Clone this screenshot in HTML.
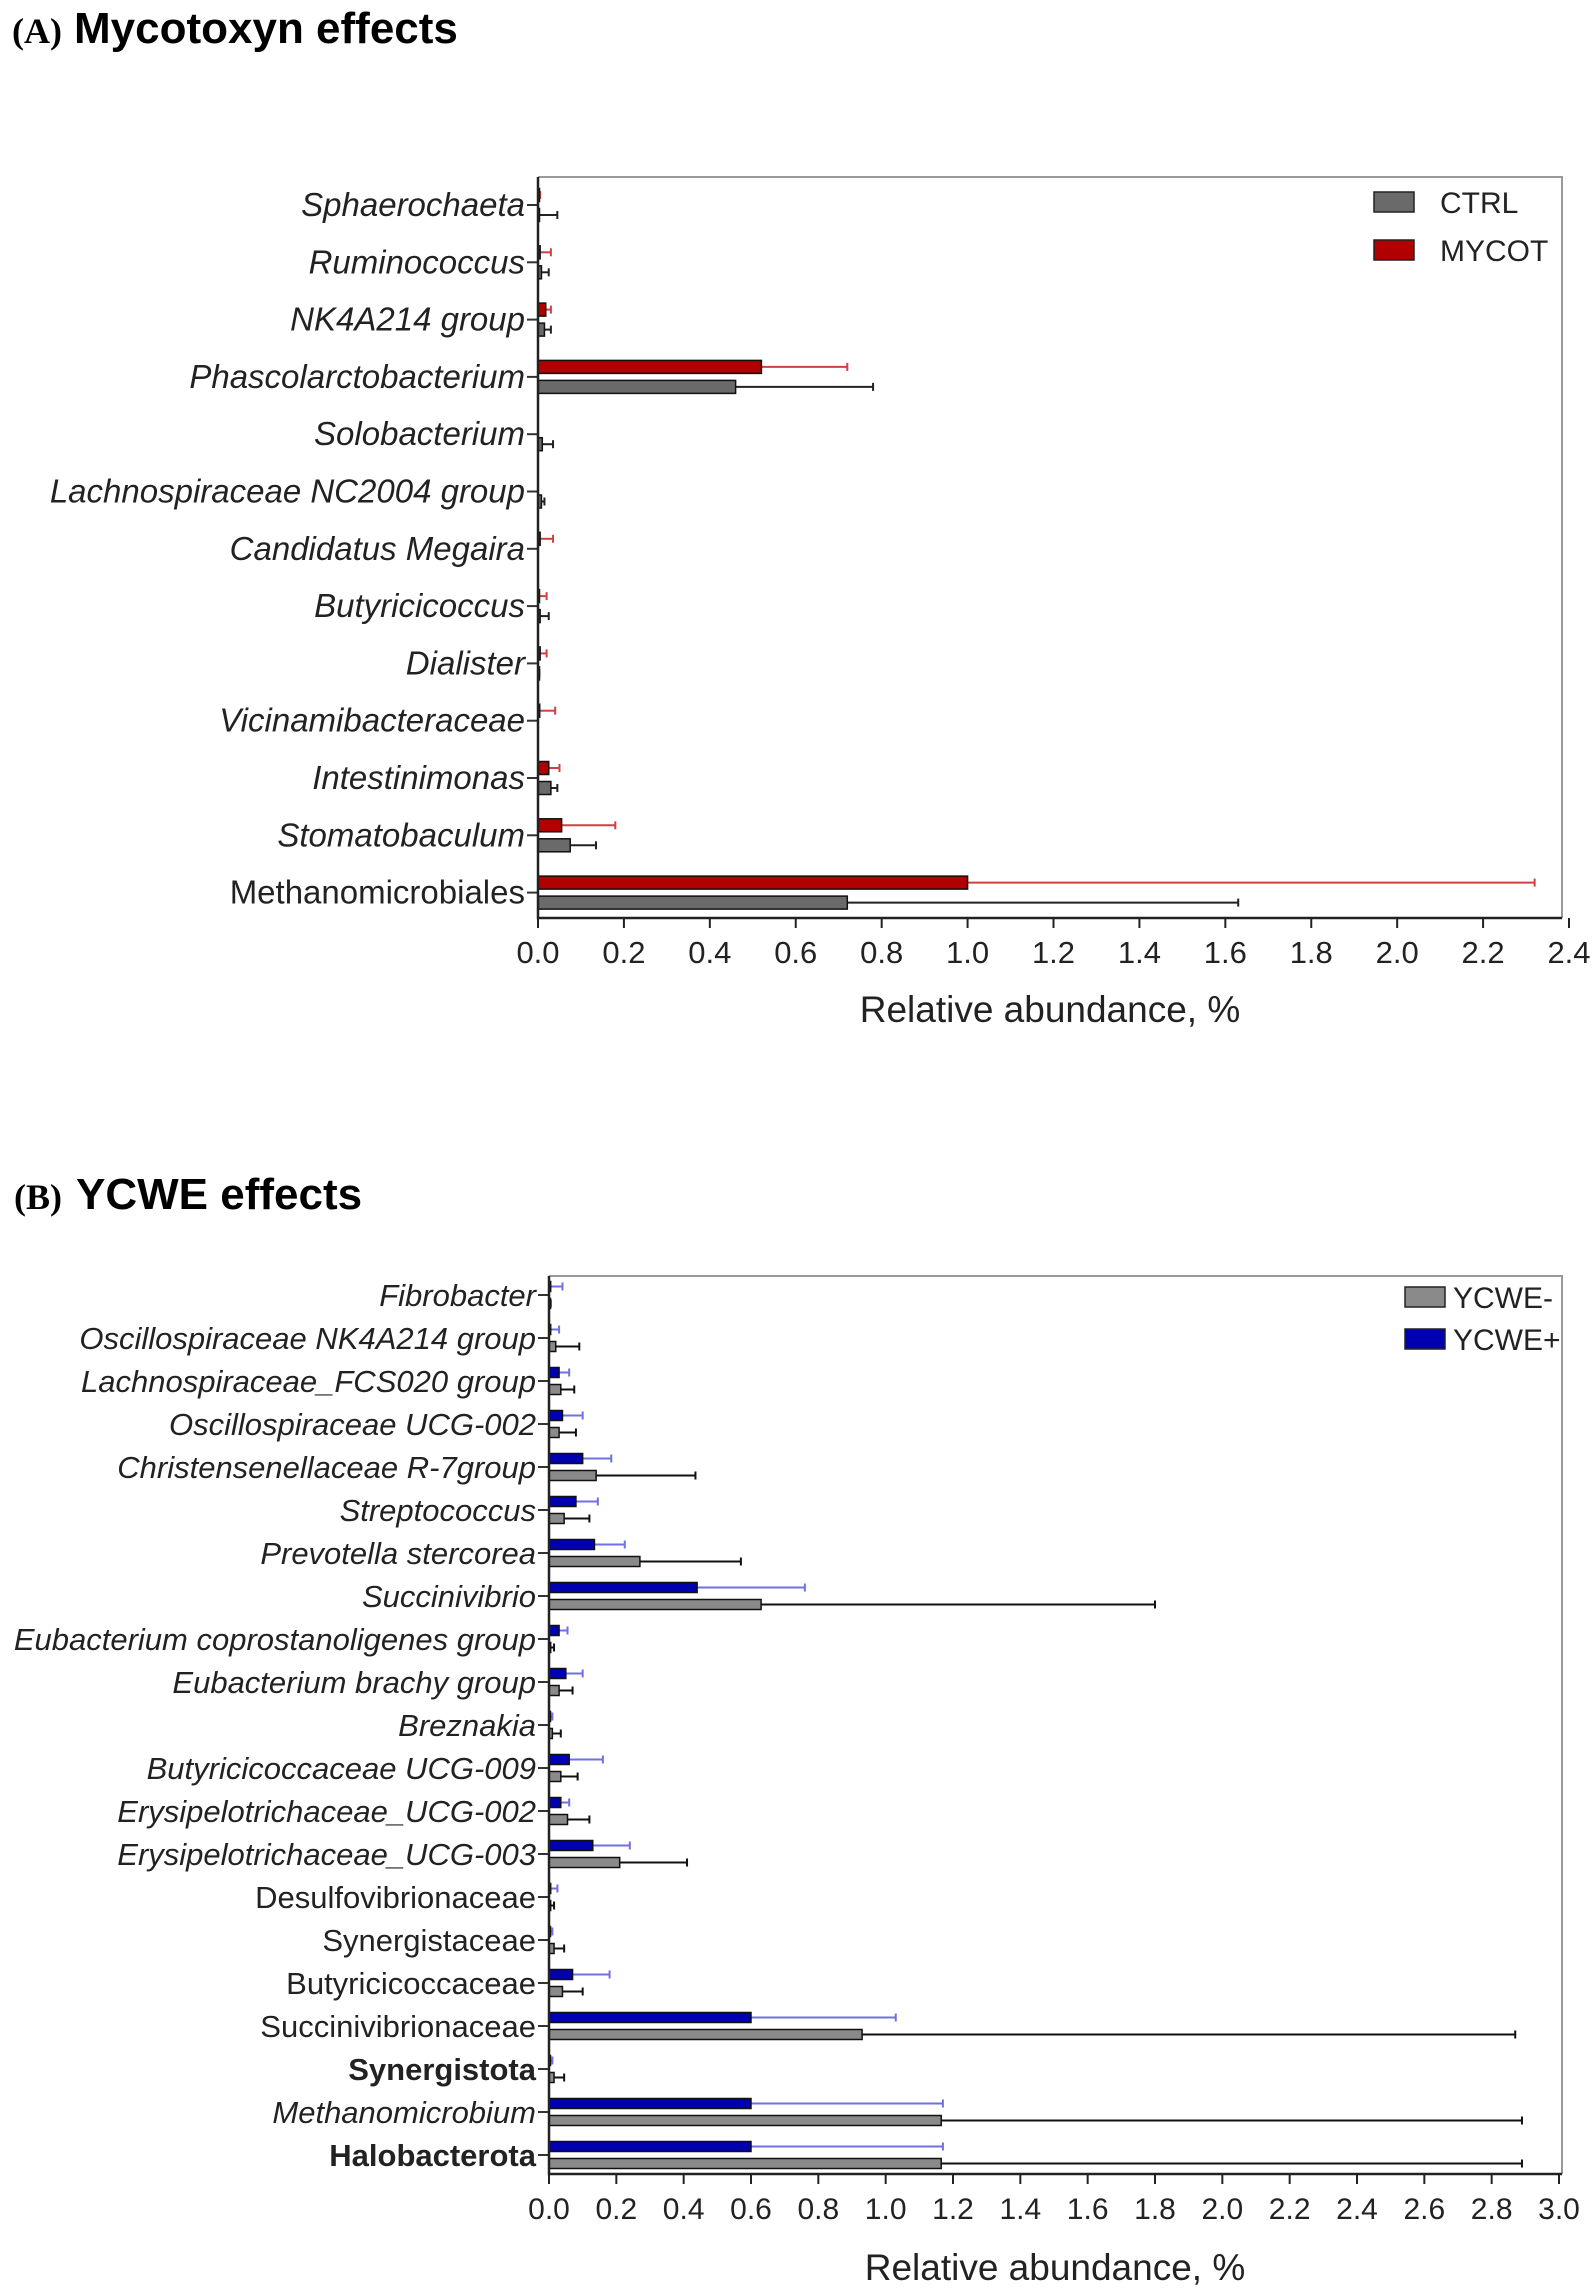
<!DOCTYPE html>
<html><head><meta charset="utf-8"><style>
html,body{margin:0;padding:0;background:#fff;}
svg{display:block;font-family:"Liberation Sans",sans-serif;}
</style></head><body>
<svg id="svg" width="1595" height="2291" viewBox="0 0 1595 2291">
<g><text x="12" y="43" font-family="Liberation Serif" font-weight="bold" font-size="36">(A)</text><text x="74" y="43" font-weight="bold" font-size="44">Mycotoxyn effects</text></g>
<g><text x="14" y="1209" font-family="Liberation Serif" font-weight="bold" font-size="36">(B)</text><text x="76" y="1209" font-weight="bold" font-size="44">YCWE effects</text></g>
<g id="ga"></g>
<g id="gb"></g>
</svg>
<script>
const catsA=["Sphaerochaeta","Ruminococcus","NK4A214 group","Phascolarctobacterium","Solobacterium","Lachnospiraceae NC2004 group","Candidatus Megaira","Butyricicoccus","Dialister","Vicinamibacteraceae","Intestinimonas","Stomatobaculum","Methanomicrobiales"];
const italicA=[1,1,1,1,1,1,1,1,1,1,1,1,0];
const mycotVals=[0.002,0.005,0.018,0.52,0,0,0.005,0.003,0.005,0.004,0.025,0.055,1.0];
const mycotErr=[0.005,0.03,0.03,0.72,0,0,0.035,0.02,0.02,0.04,0.05,0.18,2.32];
const ctrlVals=[0.003,0.008,0.015,0.46,0.01,0.008,0,0.005,0.001,0,0.03,0.075,0.72];
const ctrlErr=[0.045,0.025,0.03,0.78,0.035,0.015,0,0.025,0.003,0,0.045,0.135,1.63];
const ticksA=["0.0","0.2","0.4","0.6","0.8","1.0","1.2","1.4","1.6","1.8","2.0","2.2","2.4"];

const catsB=["Fibrobacter","Oscillospiraceae NK4A214 group","Lachnospiraceae_FCS020 group","Oscillospiraceae UCG-002","Christensenellaceae R-7group","Streptococcus","Prevotella stercorea","Succinivibrio","Eubacterium coprostanoligenes group","Eubacterium brachy group","Breznakia","Butyricicoccaceae UCG-009","Erysipelotrichaceae_UCG-002","Erysipelotrichaceae_UCG-003","Desulfovibrionaceae","Synergistaceae","Butyricicoccaceae","Succinivibrionaceae","Synergistota","Methanomicrobium","Halobacterota"];
const styleB=["i","i","i","i","i","i","i","i","i","i","i","i","i","i","n","n","n","n","b","i","b"];
const ycwePlusVals=[0.005,0.005,0.03,0.04,0.1,0.08,0.135,0.44,0.03,0.05,0.003,0.06,0.035,0.13,0.005,0.003,0.07,0.6,0.003,0.6,0.6];
const ycwePlusErr=[0.04,0.03,0.06,0.1,0.185,0.145,0.225,0.76,0.055,0.1,0.01,0.16,0.06,0.24,0.025,0.01,0.18,1.03,0.01,1.17,1.17];
const ycweMinusVals=[0.002,0.02,0.035,0.03,0.14,0.045,0.27,0.63,0.005,0.03,0.01,0.035,0.055,0.21,0.005,0.015,0.04,0.93,0.015,1.165,1.165];
const ycweMinusErr=[0.005,0.09,0.075,0.08,0.435,0.12,0.57,1.8,0.015,0.07,0.035,0.085,0.12,0.41,0.015,0.045,0.1,2.87,0.045,2.89,2.89];
const ticksB=["0.0","0.2","0.4","0.6","0.8","1.0","1.2","1.4","1.6","1.8","2.0","2.2","2.4","2.6","2.8","3.0"];

const NS="http://www.w3.org/2000/svg";
function mk(parent,tag,attrs,txt){const e=document.createElementNS(NS,tag);for(const k in attrs)e.setAttribute(k,attrs[k]);if(txt!==undefined)e.textContent=txt;parent.appendChild(e);return e;}

function chart(g,o){
  const sx=v=>o.left+(v/o.max)*(o.xmaxPx-o.left);
  const sy=i=>o.firstY+i*o.step;
  const fr=mk(g,'path',{d:`M${o.left} ${o.top}H${o.right}V${o.bottom}`,fill:'none',stroke:'#999','stroke-width':2});
  
  
  o.cats.forEach((c,i)=>{
    const y=sy(i);
    const tk=mk(g,'line',{x1:o.left-11,x2:o.left,y1:y,y2:y,stroke:'#333','stroke-width':2});
    
    
    const st=o.styles[i];
    const t=mk(g,'text',{x:o.left-13,y:y+11,'text-anchor':'end','font-size':o.fs,'font-style':st==='i'?'italic':'normal','font-weight':st==='b'?'bold':'normal',fill:'#222'},c);
    
    
    [[o.s1,o.e1,o.c1,o.ec1,-o.off],[o.s2,o.e2,o.c2,o.ec2,o.off]].forEach(([vals,errs,col,ecol,dy])=>{
      const yc=y+dy;
      const v=vals[i],e=errs[i];
      if(e>v){
        const el=mk(g,'line',{x1:sx(v),x2:sx(e),y1:yc,y2:yc,stroke:ecol,'stroke-width':2});
        
        
        const cap=mk(g,'line',{x1:sx(e),x2:sx(e),y1:yc-4,y2:yc+4,stroke:ecol,'stroke-width':2});
        
        
      }
      if(v>0){
        const r=mk(g,'rect',{x:o.left,y:yc-o.bh/2,width:Math.max(sx(v)-o.left,1.5),height:o.bh,fill:col,stroke:'#111','stroke-width':1.5});
        
        
      }
    });
  });
  const ax=mk(g,'path',{d:`M${o.left} ${o.top}V${o.bottom}H${o.right}`,fill:'none',stroke:'#222','stroke-width':2.5});
  
  
  o.ticks.forEach((t,i)=>{
    const v=parseFloat(t),x=sx(v);
    const l=mk(g,'line',{x1:x,x2:x,y1:o.bottom,y2:o.bottom+10,stroke:'#222','stroke-width':2});
    
    
    const tt=mk(g,'text',{x:x,y:o.bottom+45,'text-anchor':'middle','font-size':o.tfs,fill:'#222'},t);
    
    
  });
  const xt=mk(g,'text',{x:o.xtX,y:o.xtY,'text-anchor':'middle','font-size':37,fill:'#222'},'Relative abundance, %');
  
  
  o.legend.forEach(([lab,col],j)=>{
    const ly=o.legY+j*o.legStep;
    const r=mk(g,'rect',{x:o.legX,y:ly-10,width:40,height:20,fill:col,stroke:'#222','stroke-width':1.5});
    
    
    const t=mk(g,'text',{x:o.legX+o.legTx,y:ly+11,'font-size':30,fill:'#222'},lab);
    
    
  });
}

chart(document.getElementById('ga'),{left:538,right:1562,top:177,bottom:918,max:2.4,xmaxPx:1569,
  firstY:205,step:57.3,off:10,bh:13,fs:33,tfs:31,cats:catsA,styles:italicA.map(v=>v?'i':'n'),
  s1:mycotVals,e1:mycotErr,c1:'#b00000',ec1:'#d04040',
  s2:ctrlVals,e2:ctrlErr,c2:'#6a6a6a',ec2:'#222',
  ticks:ticksA,xtX:1050,xtY:1022,legend:[['CTRL','#6a6a6a'],['MYCOT','#b00000']],legX:1374,legY:202,legStep:48,legTx:66});

chart(document.getElementById('gb'),{left:549,right:1562,top:1276,bottom:2174,max:3.0,xmaxPx:1559,
  firstY:1295,step:43,off:8.5,bh:10,fs:31,tfs:30,cats:catsB,styles:styleB,
  s1:ycwePlusVals,e1:ycwePlusErr,c1:'#0000b0',ec1:'#7070e0',
  s2:ycweMinusVals,e2:ycweMinusErr,c2:'#8a8a8a',ec2:'#111',
  ticks:ticksB,xtX:1055,xtY:2280,legend:[['YCWE-','#8a8a8a'],['YCWE+','#0000b0']],legX:1405,legY:1297,legStep:42,legTx:48});
</script>
</body></html>
